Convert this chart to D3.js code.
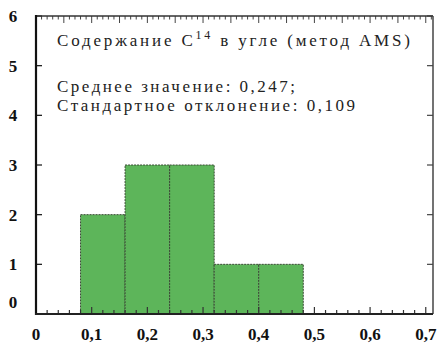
<!DOCTYPE html>
<html lang="ru">
<head>
<meta charset="UTF-8">
<title>Содержание C14 в угле</title>
<script src="https://d3js.org/d3.v7.min.js"></script>
<style>
    body { margin: 0; padding: 0; background: #fff; }
    svg { display: block; }
</style>
</head>
<body>
<svg id="chart" width="440" height="346"></svg>
<script>
// histogram bins (lower edge, upper edge) and counts
const binStarts = [0.08, 0.16, 0.24, 0.32, 0.40]
const binEnds   = [0.16, 0.24, 0.32, 0.40, 0.48]
const counts    = [2, 3, 3, 1, 1]

const xTickValues = [0, 0.1, 0.2, 0.3, 0.4, 0.5, 0.6, 0.7]
const xTickLabels = ["0", "0,1", "0,2", "0,3", "0,4", "0,5", "0,6", "0,7"]
const yTickValues = [0, 1, 2, 3, 4, 5, 6]

const titleText = "Содержание C"
const titleSup = "14"
const titleRest = " в угле (метод AMS)"
const meanText = "Среднее значение: 0,247;"
const sdText = "Стандартное отклонение: 0,109"

const serif = '"Liberation Serif", "Times New Roman", serif'

const svg = d3.select("#chart")
const plotLeft = 36, plotRight = 433, plotTop = 16, plotBottom = 314

const x = d3.scaleLinear().domain([0, 0.713]).range([plotLeft, plotRight])
const y = d3.scaleLinear().domain([0, 6]).range([plotBottom, plotTop])

// bars
const bins = counts.map((c, i) => ({ x0: binStarts[i], x1: binEnds[i], n: c }))
svg.selectAll("rect.bar")
    .data(bins)
    .enter()
    .append("rect")
    .attr("class", "bar")
    .attr("x", d => x(d.x0))
    .attr("y", d => y(d.n))
    .attr("width", d => x(d.x1) - x(d.x0))
    .attr("height", d => y(0) - y(d.n))
    .attr("fill", "#5db55a")
    .attr("stroke", "#3a4a35")
    .attr("stroke-width", 1)
    .attr("stroke-dasharray", "2,1")

// minor ticks on bottom (every 0.02) and top (every 0.01)
const bottomTicks = d3.range(0, 36).map(i => i * 0.02).filter(v => v <= 0.713)
svg.selectAll("line.bt")
    .data(bottomTicks)
    .enter()
    .append("line")
    .attr("x1", d => x(d)).attr("x2", d => x(d))
    .attr("y1", plotBottom)
    .attr("y2", d => plotBottom - (Math.abs(d * 10 - Math.round(d * 10)) < 1e-6 ? 7 : 4))
    .attr("stroke", "#333").attr("stroke-width", 1.2)

const topTicks = d3.range(0, 72).map(i => i * 0.01).filter(v => v <= 0.713)
svg.selectAll("line.tt")
    .data(topTicks)
    .enter()
    .append("line")
    .attr("x1", d => x(d)).attr("x2", d => x(d))
    .attr("y1", plotTop)
    .attr("y2", d => plotTop + (Math.abs(d * 20 - Math.round(d * 20)) < 1e-6 ? 7 : 3.5))
    .attr("stroke", "#444").attr("stroke-width", 1)

// y ticks on both sides
svg.selectAll("line.ly")
    .data(yTickValues)
    .enter()
    .append("line")
    .attr("x1", plotLeft).attr("x2", plotLeft + 6)
    .attr("y1", d => y(d)).attr("y2", d => y(d))
    .attr("stroke", "#222").attr("stroke-width", 1.3)
svg.selectAll("line.ry")
    .data(yTickValues)
    .enter()
    .append("line")
    .attr("x1", plotRight).attr("x2", plotRight - 6)
    .attr("y1", d => y(d)).attr("y2", d => y(d))
    .attr("stroke", "#444").attr("stroke-width", 1.2)

// frame
svg.append("line").attr("x1", plotLeft).attr("x2", plotRight).attr("y1", plotTop).attr("y2", plotTop)
    .attr("stroke", "#333").attr("stroke-width", 1.5)
svg.append("line").attr("x1", plotRight).attr("x2", plotRight).attr("y1", plotTop).attr("y2", plotBottom)
    .attr("stroke", "#444").attr("stroke-width", 1.5)
svg.append("line").attr("x1", plotLeft).attr("x2", plotLeft).attr("y1", plotTop - 1).attr("y2", plotBottom + 1)
    .attr("stroke", "#111").attr("stroke-width", 2.2)
svg.append("line").attr("x1", plotLeft - 1).attr("x2", plotRight).attr("y1", plotBottom).attr("y2", plotBottom)
    .attr("stroke", "#222").attr("stroke-width", 2)

// tick labels
svg.selectAll("text.xl")
    .data(xTickValues)
    .enter()
    .append("text")
    .attr("class", "xl")
    .attr("x", d => x(d))
    .attr("y", 340)
    .attr("text-anchor", "middle")
    .style("font-family", serif).style("font-weight", "bold").style("font-size", "17px")
    .attr("fill", "#111")
    .text((d, i) => xTickLabels[i])

svg.selectAll("text.yl")
    .data(yTickValues)
    .enter()
    .append("text")
    .attr("class", "yl")
    .attr("x", 13)
    .attr("y", d => y(d) + (d === 0 ? -6 : 6))
    .attr("text-anchor", "middle")
    .style("font-family", serif).style("font-weight", "bold").style("font-size", "17px")
    .attr("fill", "#111")
    .text(d => d)

// annotations
const note = sel => sel.style("font-family", serif).style("font-size", "17px").attr("fill", "#222")

const t = svg.append("text").attr("x", 57).attr("y", 46)
    .attr("textLength", 353).attr("lengthAdjust", "spacing").call(note)
t.append("tspan").text(titleText)
t.append("tspan").style("font-size", "12px").attr("dy", -7).text(titleSup)
t.append("tspan").attr("dy", 7).text(titleRest)

svg.append("text").attr("x", 57).attr("y", 92)
    .attr("textLength", 238).attr("lengthAdjust", "spacing").call(note).text(meanText)
svg.append("text").attr("x", 57).attr("y", 111)
    .attr("textLength", 298).attr("lengthAdjust", "spacing").call(note).text(sdText)
</script>
</body>
</html>
